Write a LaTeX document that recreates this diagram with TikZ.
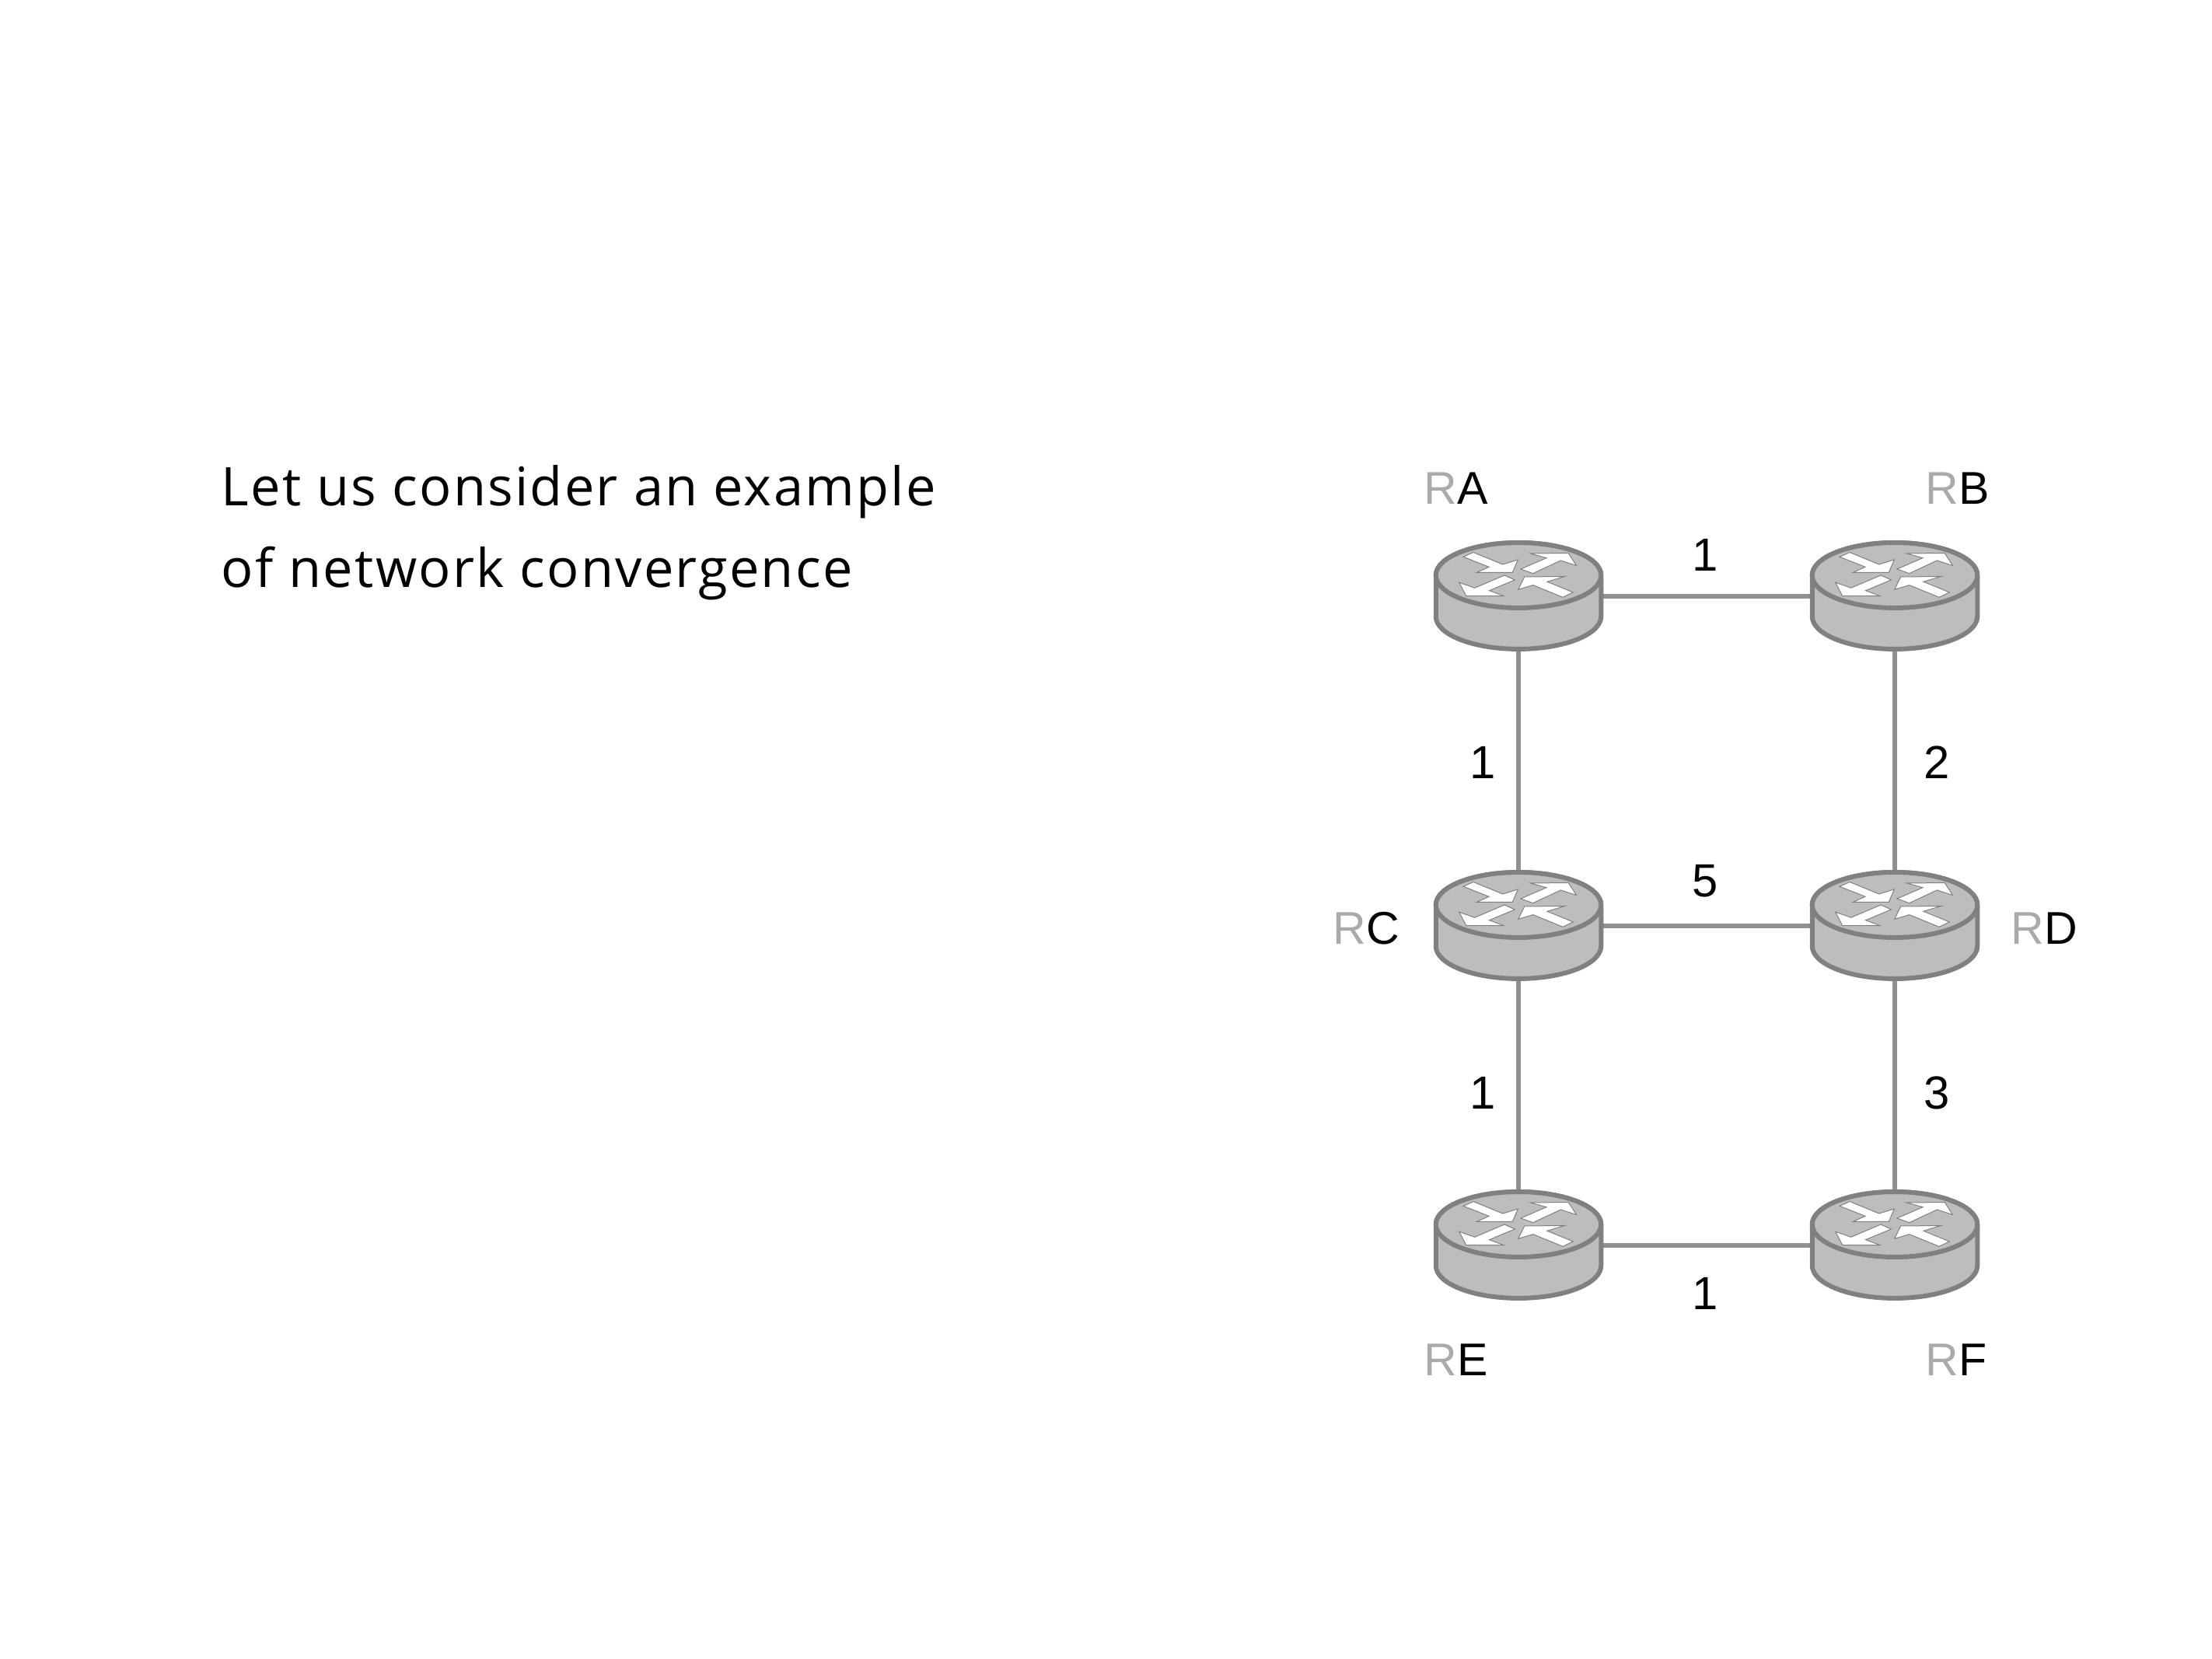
\documentclass[tikz,border=0pt]{standalone}
\usepackage{fontspec}
\setmainfont{Liberation Sans}
\newfontfamily\titlefont[LetterSpace=3.3]{Open Sans}
\usepackage{tikz}
\definecolor{routerfill}{HTML}{BDBDBD}
\definecolor{routeredge}{HTML}{808080}
\definecolor{linkgray}{HTML}{909090}
\definecolor{prefixgray}{HTML}{AAAAAA}
\tikzset{
  routerbox/.style={minimum width=2.17cm,minimum height=1.4cm,inner sep=0pt},
  routerline/.style={draw=routeredge,line width=0.06cm,fill=routerfill,line join=round},
  routerarrow/.style={draw=routeredge,line width=0.01cm,fill=white,line join=miter},
  linkline/.style={draw=linkgray,line width=0.056cm},
  linkcost/.style={font=\fontsize{17}{20}\selectfont,inner sep=0pt},
  routername/.style={font=\fontsize{16.8}{20}\selectfont,inner sep=0pt,anchor=base west},
  pics/router/.style={code={
    \begin{scope}[x=0.01cm,y=0.01cm]
      % body and top face
      \path[routerline] (-106.3,27) -- (-106.3,-26) arc (180:360:106.3 and 42) -- (106.3,27) arc (0:180:106.3 and 42) -- cycle;
      \path[routerline] (0,27) ellipse (106.3 and 42);
      % four arrows on the top face
      \path[routerarrow] (-71,50.7) -- (-58,56.5) -- (-20.3,41) -- (-0.7,47) -- (-7.7,30.7) -- (-53.5,30.7) -- (-38,37.7) -- cycle;
      \path[routerarrow] (3,35) -- (36,49.3) -- (15.3,55) -- (64.3,55.5) -- (74.5,39.5) -- (54.3,46) -- (18.7,29.3) -- cycle;
      \path[routerarrow] (-4.7,21) -- (-18,27) -- (-56.3,10.7) -- (-76.3,17.7) -- (-67.3,0.3) -- (-19,0.3) -- (-37.5,7.3) -- cycle;
      \path[routerarrow] (70.3,5) -- (57,-1.3) -- (18.7,14.3) -- (-0.3,8.7) -- (7.7,25) -- (59.5,25.5) -- (37,18.7) -- cycle;
    \end{scope}
  }}
}
\newcommand{\rname}[1]{\textcolor{prefixgray}{R}#1}

\begin{document}
\begin{tikzpicture}
\useasboundingbox (0,0) rectangle (28.45,21.34);

\node[anchor=north west,align=left,font=\titlefont\fontsize{19.5}{29.85}\selectfont,inner sep=0pt] (intro) at (2.84,15.36) {Let us consider an example\\of network convergence};

\node[routerbox] (ra) at (19.53,13.67) {};
\node[routerbox] (rb) at (24.37,13.67) {};
\node[routerbox] (rc) at (19.53,9.43) {};
\node[routerbox] (rd) at (24.37,9.43) {};
\node[routerbox] (re) at (19.53,5.32) {};
\node[routerbox] (rf) at (24.37,5.32) {};

\foreach \a/\b in {ra/rb,ra/rc,rb/rd,rc/rd,rc/re,rd/rf,re/rf}
         {
           \draw[linkline] (\a) -- (\b);
         }

\foreach \r in {ra,rb,rc,rd,re,rf}
         {
           \pic at (\r) {router};
         }

\node[routername] (namea) at (18.31,14.85) {\rname{A}};
\node[routername] (nameb) at (24.76,14.85) {\rname{B}};
\node[routername] (namec) at (17.14,9.19) {\rname{C}};
\node[routername] (named) at (25.86,9.19) {\rname{D}};
\node[routername] (namee) at (18.31,3.64) {\rname{E}};
\node[routername] (namef) at (24.76,3.64) {\rname{F}};

\node[linkcost] (costab) at (21.93,14.20) {1};
\node[linkcost] (costac) at (19.07,11.53) {1};
\node[linkcost] (costbd) at (24.91,11.53) {2};
\node[linkcost] (costcd) at (21.93,10.01) {5};
\node[linkcost] (costce) at (19.07,7.28) {1};
\node[linkcost] (costdf) at (24.91,7.28) {3};
\node[linkcost] (costef) at (21.93,4.70) {1};
\end{tikzpicture}
\end{document}
